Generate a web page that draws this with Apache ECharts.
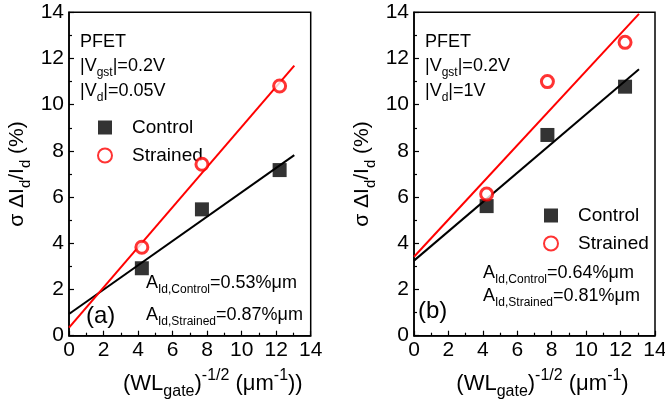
<!DOCTYPE html>
<html><head><meta charset="utf-8">
<script src="https://cdn.jsdelivr.net/npm/echarts@6/dist/echarts.min.js"></script>
<style>html,body{margin:0;padding:0;background:#fff}#c{width:665px;height:406px}</style>
</head><body><div id="c"></div>
<script>
// Panel (a): |Vd| = 0.05 V
var xA = [4.22, 7.7, 12.2];
var controlA = [2.92, 5.47, 7.17];
var strainedA = [3.83, 7.42, 10.81];
var controlFitA = [[0, 0.94], [13.05, 7.82]];
var strainedFitA = [[0, 0.35], [13.05, 11.69]];
// Panel (b): |Vd| = 1 V
var xB = [4.22, 7.75, 12.26];
var controlB = [5.61, 8.69, 10.78];
var strainedB = [6.13, 11.0, 12.7];
var controlFitB = [[0, 3.25], [13.07, 11.53]];
var strainedFitB = [[0, 3.42], [13.07, 13.93]];
var xTicks = [0, 2, 4, 6, 8, 10, 12, 14];
var yTicks = [0, 2, 4, 6, 8, 10, 12, 14];

var FONT = 'Liberation Sans';
var RED = '#ff0000';
function pts(xs, ys) { return xs.map(function (x, i) { return [x, ys[i]]; }); }

var richBase = {
  n: { fontFamily: FONT, fontSize: 22, color: '#000', lineHeight: 32 },
  sub: { fontFamily: FONT, fontSize: 16, color: '#000', lineHeight: 15, verticalAlign: 'bottom' },
  sup: { fontFamily: FONT, fontSize: 16, color: '#000', lineHeight: 15, verticalAlign: 'top' }
};
var richY = {
  n: { fontFamily: FONT, fontSize: 21, color: '#000', lineHeight: 32 },
  sub: { fontFamily: FONT, fontSize: 15, color: '#000', lineHeight: 15, verticalAlign: 'bottom' }
};
var richAnn = {
  n: { fontFamily: FONT, fontSize: 18, color: '#000', lineHeight: 26 },
  sub: { fontFamily: FONT, fontSize: 12, color: '#000', lineHeight: 12, verticalAlign: 'bottom' }
};

function xAxisCfg(idx, name, shift) {
  return {
    gridIndex: idx, type: 'value', min: xTicks[0], max: xTicks[xTicks.length - 1], interval: 2,
    axisLine: { show: true, onZero: false, lineStyle: { color: '#000', width: 1.5 } },
    axisTick: { show: true, inside: true, length: 5, lineStyle: { color: '#000', width: 1.2 } },
    minorTick: { show: true, splitNumber: 2, length: 3, lineStyle: { color: '#000', width: 1.2 } },
    splitLine: { show: false },
    axisLabel: { fontFamily: FONT, fontSize: 21, color: '#000', margin: 4, showMaxLabel: true, showMinLabel: true },
    name: name, nameLocation: 'middle', nameGap: 32,
    nameTextStyle: { rich: richBase, padding: [0, 0, 0, shift] }
  };
}
function yAxisCfg(idx) {
  return {
    gridIndex: idx, type: 'value', min: yTicks[0], max: yTicks[yTicks.length - 1], interval: 2,
    axisLine: { show: true, onZero: false, lineStyle: { color: '#000', width: 1.5 } },
    axisTick: { show: true, inside: true, length: 5, lineStyle: { color: '#000', width: 1.2 } },
    minorTick: { show: true, splitNumber: 2, length: 3, lineStyle: { color: '#000', width: 1.2 } },
    splitLine: { show: false },
    axisLabel: { fontFamily: FONT, fontSize: 21, color: '#000', margin: 5 },
    name: '{n|σ ΔI}{sub|d}{n|/I}{sub|d}{n| (%)}', nameLocation: 'middle', nameGap: 36, nameRotate: 90,
    nameTextStyle: { rich: richY }
  };
}
function scatter(name, idx, data, filled) {
  return {
    type: 'scatter', name: name, xAxisIndex: idx, yAxisIndex: idx, data: data,
    symbol: filled ? 'rect' : 'circle', symbolSize: filled ? 14 : 12, z: 5,
    itemStyle: filled ? { color: '#000' } : { color: '#fff', borderColor: RED, borderWidth: 3 }
  };
}
function fit(idx, data, color) {
  return {
    type: 'line', xAxisIndex: idx, yAxisIndex: idx, data: data, symbol: 'none', z: 3,
    lineStyle: { color: color, width: 2 }, silent: true
  };
}
function legendCfg(left, top) {
  return {
    left: left, top: top, orient: 'vertical', itemWidth: 14, itemHeight: 14, itemGap: 9,
    data: [{ name: 'Control', icon: 'rect' }, { name: 'Strained', icon: 'circle' }],
    textStyle: { fontFamily: FONT, fontSize: 19, color: '#000', padding: [0, 0, 0, 15] },
    selectedMode: false
  };
}
function txt(x, y, s) {
  return { type: 'text', left: x, top: y, style: { text: s, rich: richAnn, fill: '#000' } };
}

var chart = echarts.init(document.getElementById('c'), null, { renderer: 'canvas' });
chart.setOption({
  animation: false,
  backgroundColor: '#fff',
  grid: [
    { left: 69, top: 12.3, width: 241.7, height: 323.4, show: true, borderColor: '#000', borderWidth: 1.5, backgroundColor: 'transparent', containLabel: false, outerBoundsMode: 'none' },
    { left: 414, top: 12.3, width: 241, height: 323.4, show: true, borderColor: '#000', borderWidth: 1.5, backgroundColor: 'transparent', containLabel: false, outerBoundsMode: 'none' }
  ],
  xAxis: [
    xAxisCfg(0, '{n|(WL}{sub|gate}{n|)}{sup|-1/2}{n| (μm}{sup|-1}{n|))}', 46),
    xAxisCfg(1, '{n|(WL}{sub|gate}{n|)}{sup|-1/2}{n| (μm}{sup|-1}{n|)}', 16)
  ],
  yAxis: [yAxisCfg(0), yAxisCfg(1)],
  legend: [legendCfg(92, 113), legendCfg(538, 201)],
  series: [
    fit(0, controlFitA, '#000'),
    fit(0, strainedFitA, RED),
    scatter('Control', 0, pts(xA, controlA), true),
    scatter('Strained', 0, pts(xA, strainedA), false),
    fit(1, controlFitB, '#000'),
    fit(1, strainedFitB, RED),
    scatter('Control', 1, pts(xB, controlB), true),
    scatter('Strained', 1, pts(xB, strainedB), false)
  ],
  graphic: [
    txt(80, 33, '{n|PFET}'),
    txt(80, 57, '{n||V}{sub|gst}{n||=0.2V}'),
    txt(80, 82, '{n||V}{sub|d}{n||=0.05V}'),
    txt(146, 274, '{n|A}{sub|Id,Control}{n|=0.53%μm}'),
    txt(146, 306, '{n|A}{sub|Id,Strained}{n|=0.87%μm}'),
    { type: 'text', left: 86, top: 304, style: { text: '(a)', fontFamily: FONT, fontSize: 24, fill: '#000' } },
    txt(425, 33, '{n|PFET}'),
    txt(425, 57, '{n||V}{sub|gst}{n||=0.2V}'),
    txt(425, 82, '{n||V}{sub|d}{n||=1V}'),
    txt(483, 264, '{n|A}{sub|Id,Control}{n|=0.64%μm}'),
    txt(483, 287, '{n|A}{sub|Id,Strained}{n|=0.81%μm}'),
    { type: 'text', left: 418, top: 299, style: { text: '(b)', fontFamily: FONT, fontSize: 24, fill: '#000' } }
  ]
});
</script></body></html>
